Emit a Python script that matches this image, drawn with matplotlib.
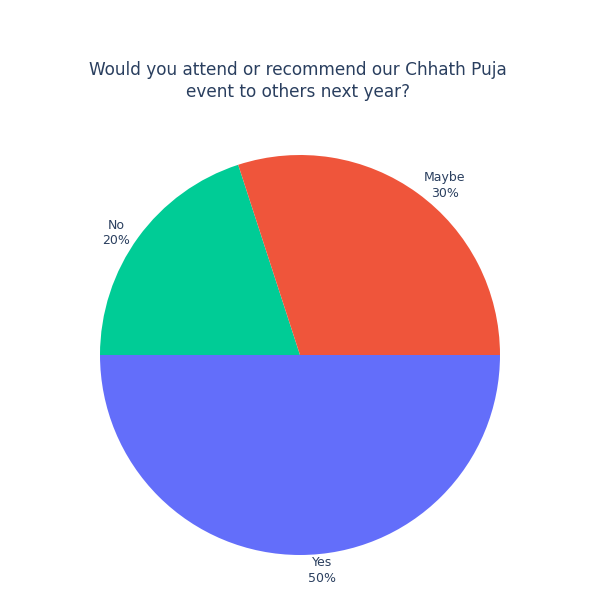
import numpy as np
import matplotlib.pyplot as plt

# survey answers
labels = ['Yes', 'No', 'Maybe']
values = [50, 20, 30]
colors = ['#636efa', '#00cc96', '#ef553b']

fig = plt.figure(figsize=(6, 6), dpi=100)
ax = fig.add_axes([100 / 600, 45 / 600, 400 / 600, 400 / 600])

wedges, _ = ax.pie(values, colors=colors, startangle=0, counterclock=False,
                   radius=1, wedgeprops={'linewidth': 0})
ax.set_xlim(-1, 1)
ax.set_ylim(-1, 1)
ax.set_aspect('equal')
ax.axis('off')

total = sum(values)
for w, lab, v in zip(wedges, labels, values):
    mid = np.deg2rad((w.theta1 + w.theta2) / 2)
    c, s = np.cos(mid), np.sin(mid)
    # outside label, nudged off the rim like plotly does
    dx = 16 + 6 * max(c, 0) if c > -1e-6 else -16
    dy = 11 * s - 3.3 if s > 0 else 11 * s
    ax.annotate(f'{lab}\n{v / total * 100:.0f}%', xy=(c, s), xytext=(dx, dy),
                textcoords='offset points', ha='center', va='center',
                fontsize=9, color='#2a3f5f', linespacing=1.25,
                annotation_clip=False)

fig.text(0.497, 1 - 81 / 600,
         'Would you attend or recommend our Chhath Puja\nevent to others next year?',
         ha='center', va='center', fontsize=12.2, color='#2a3f5f', linespacing=1.25)

fig.savefig('out.png', dpi=100, facecolor='white')
